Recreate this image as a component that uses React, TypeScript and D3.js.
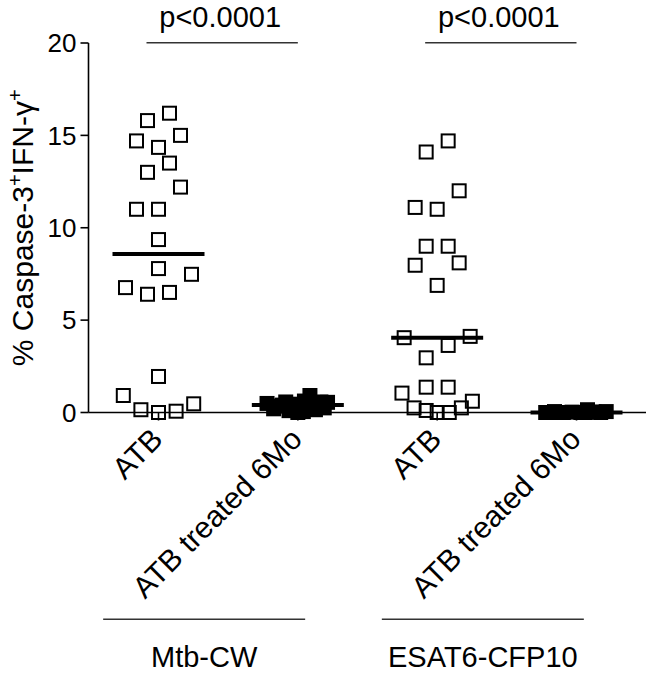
import React from "react";
import * as d3 from "d3";

// ---- data ----
const categories = ["Mtb ATB", "Mtb treated", "ESAT ATB", "ESAT treated"];
const xLabels = ["ATB", "ATB treated 6Mo", "ATB", "ATB treated 6Mo"];
const groupLabels = ["Mtb-CW", "ESAT6-CFP10"];
const pLabels = ["p<0.0001", "p<0.0001"];
const yTicks = [0, 5, 10, 15, 20];

const mtbAtbValues = [16.2, 15.8, 14.7, 15.0, 14.35, 13.5, 13.0, 12.2, 11.0, 11.0, 9.36, 7.79, 7.48, 6.76, 6.4, 6.5, 1.95, 0.92, 0.15, 0.0, 0.07, 0.47];
const mtbAtbJitter = [1, -1, -2, 2, 0, 1, -1, 2, -2, 0, 0, 0, 3, -3, -1, 1, 0, -3.2, -1.6, 0, 1.6, 3.2];

const mtbTreatedValues = [0.49, 0.35, 0.57, 0.3, 0.0, 0.92, 0.57, 0.55, 0.2, 0.1, 0.05, 0.15, 0.62, 0.45, 0.25, 0.4, 0.42];
const mtbTreatedJitter = [-2.8, -1.7, -1.1, -0.4, 0, 1.1, 2.1, 2.7, -2.2, -0.8, 0.5, 1.6, 0.6, 0, 2.4, -1.4, 1.0];

const esatAtbValues = [14.7, 14.1, 12.0, 11.1, 11.0, 9.0, 9.0, 7.97, 8.1, 6.88, 4.05, 4.12, 3.63, 2.96, 1.37, 1.37, 1.05, 0.61, 0.25, 0.11, 0.0, 0.0, 0.25];
const esatAtbJitter = [1, -1, 2, -2, 0, -1, 1, -2, 2, 0, -3, 3, 1, -1, -1, 1, -3.2, 3.2, -2.1, -1, 0, 1.1, 2.2];

const esatTreatedValues = [0.0, 0.05, 0.0, 0.02, 0.0, 0.15, 0.03, 0.0, 0.05, 0.0, 0.0];
const esatTreatedJitter = [-2.8, -2, -1.2, -0.4, 0.4, 1, 1.6, 2.2, 2.7, -1.6, 0.8];

const seriesValues = [mtbAtbValues, mtbTreatedValues, esatAtbValues, esatTreatedValues];
const seriesJitter = [mtbAtbJitter, mtbTreatedJitter, esatAtbJitter, esatTreatedJitter];
const seriesFilled = [false, true, false, true];

// ---- layout ----
const W = 650;
const H = 673;
const JIT = 11;
const SQ = 13;
const FONT = "'Liberation Sans', Arial, Helvetica, sans-serif";

export default function App() {
  const x = d3.scalePoint<string>().domain(categories).range([158.5, 576.5]);
  const y = d3.scaleLinear().domain([0, 20]).range([412.5, 43]);
  const axisLeft = 88.5;
  const axisRight = 646;

  const pairs = [
    [categories[0], categories[1]],
    [categories[2], categories[3]],
  ];

  return (
    <svg
      width={W}
      height={H}
      style={{ position: "absolute", left: 0, top: 0, background: "#fff" }}
      fontFamily={FONT}
    >
      <rect x={0} y={0} width={W} height={H} fill="#fff" />
      {/* y axis */}
      <line x1={axisLeft} x2={axisLeft} y1={y(20)} y2={y(0)} stroke="#000" strokeWidth={1.6} />
      {yTicks.map((t) => (
        <g key={t}>
          <line x1={axisLeft - 8} x2={axisLeft} y1={y(t)} y2={y(t)} stroke="#000" strokeWidth={1.6} />
          <text x={axisLeft - 12} y={y(t)} dy="0.36em" textAnchor="end" fontSize={26} fill="#000">
            {t}
          </text>
        </g>
      ))}
      {/* y title */}
      <text
        transform={`translate(33,${(y(0) + y(20)) / 2}) rotate(-90)`}
        textAnchor="middle"
        fontSize={30}
        fill="#000"
      >
        % Caspase-3
        <tspan baselineShift="super" fontSize={20}>+</tspan>
        IFN-γ
        <tspan baselineShift="super" fontSize={20}>+</tspan>
      </text>

      {/* x axis */}
      <line x1={axisLeft} x2={axisRight} y1={y(0)} y2={y(0)} stroke="#000" strokeWidth={1.6} />
      {categories.map((c) => (
        <line key={c} x1={x(c)} x2={x(c)} y1={y(0)} y2={y(0) + 8} stroke="#000" strokeWidth={1.6} />
      ))}

      {/* points */}
      {seriesValues.map((vals, si) => {
        const cx = x(categories[si]) as number;
        return (
          <g key={si}>
            {vals.map((v, i) => (
              <rect
                key={i}
                x={cx + seriesJitter[si][i] * JIT - SQ / 2}
                y={y(v) - SQ / 2}
                width={SQ}
                height={SQ}
                fill={seriesFilled[si] ? "#000" : "none"}
                stroke="#000"
                strokeWidth={2}
              />
            ))}
            <line
              x1={cx - 46}
              x2={cx + 46}
              y1={y(d3.median(vals) as number)}
              y2={y(d3.median(vals) as number)}
              stroke="#000"
              strokeWidth={4}
            />
          </g>
        );
      })}

      {/* rotated x labels */}
      {categories.map((c, i) => (
        <text
          key={c}
          transform={`translate(${(x(c) as number) + 6},441) rotate(-45)`}
          textAnchor="end"
          fontSize={30}
          fill="#000"
        >
          {xLabels[i]}
        </text>
      ))}

      {/* significance */}
      {pairs.map((p, i) => {
        const x1 = (x(p[0]) as number) - 12;
        const x2 = x(p[1]) as number;
        return (
          <g key={i}>
            <line x1={x1} x2={x2} y1={42.7} y2={42.7} stroke="#333" strokeWidth={1.5} />
            <text x={(x1 + x2) / 2 - 2} y={27} textAnchor="middle" fontSize={29} fill="#000">
              {pLabels[i]}
            </text>
          </g>
        );
      })}

      {/* group labels */}
      {pairs.map((p, i) => {
        const mid = ((x(p[0]) as number) + (x(p[1]) as number)) / 2 - 24;
        return (
          <g key={i}>
            <line x1={mid - 101} x2={mid + 101} y1={619.3} y2={619.3} stroke="#333" strokeWidth={1.5} />
            <text x={mid} y={667} textAnchor="middle" fontSize={29} fill="#000">
              {groupLabels[i]}
            </text>
          </g>
        );
      })}
    </svg>
  );
}
